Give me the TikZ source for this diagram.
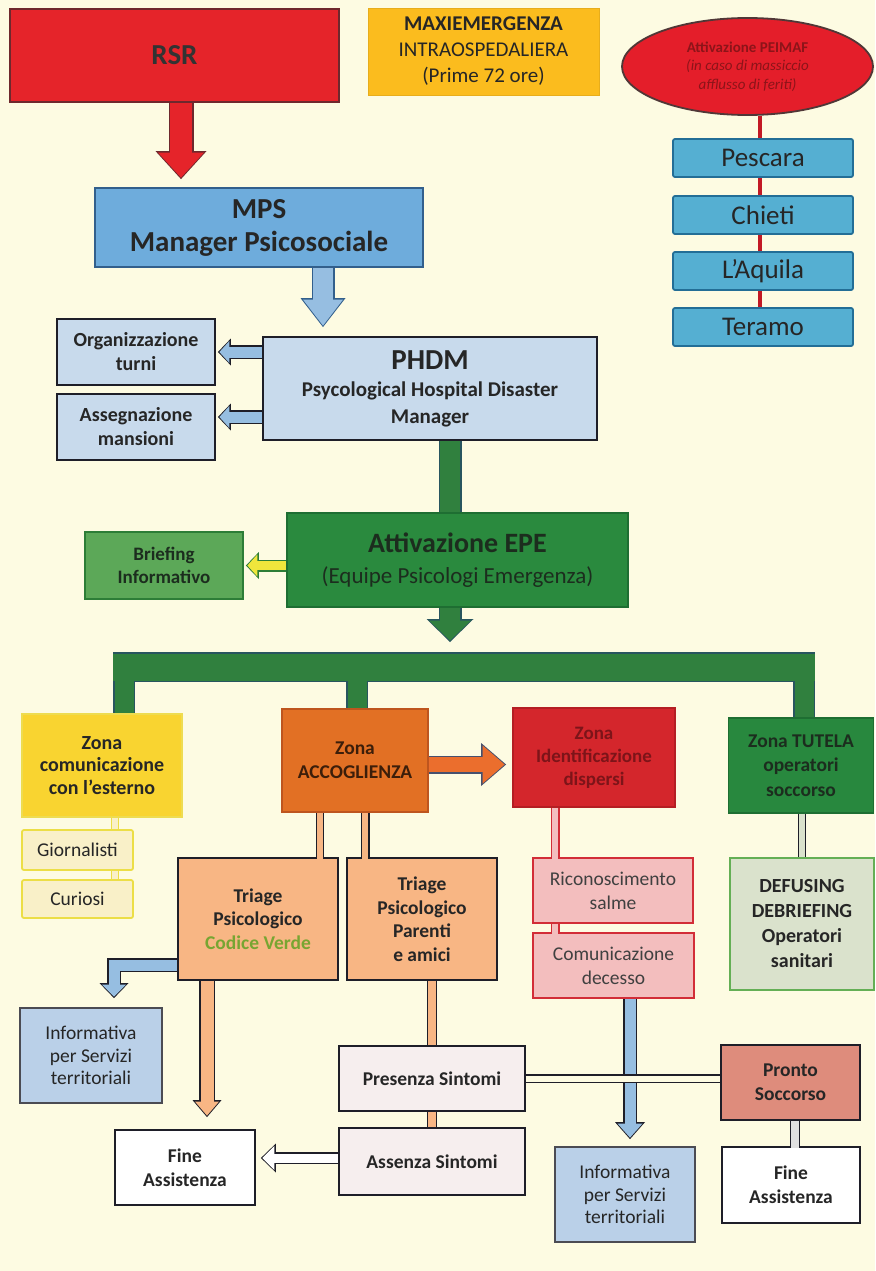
\documentclass[tikz,border=0pt]{standalone}
\usepackage{fontspec}
\setmainfont{Carlito}
\usepackage{xcolor}
\usepackage{tikz}
\usetikzlibrary{shapes,arrows.meta,positioning,calc}

\definecolor{bgcream}{RGB}{253,251,226}
\definecolor{rsrred}{RGB}{229,36,42}
\definecolor{rsrline}{RGB}{110,40,45}
\definecolor{maxorange}{RGB}{251,188,30}
\definecolor{ellred}{RGB}{228,30,42}
\definecolor{ellline}{RGB}{80,55,55}
\definecolor{elltext}{RGB}{140,20,25}
\definecolor{cityblue}{RGB}{85,175,210}
\definecolor{cityline}{RGB}{35,110,150}
\definecolor{mpsblue}{RGB}{110,172,220}
\definecolor{mpsline}{RGB}{50,95,140}
\definecolor{lightblue}{RGB}{200,218,236}
\definecolor{darkline}{RGB}{30,30,40}
\definecolor{epegreen}{RGB}{42,138,62}
\definecolor{epeline}{RGB}{30,110,50}
\definecolor{epetext}{RGB}{28,45,30}
\definecolor{brfgreen}{RGB}{92,168,88}
\definecolor{brfline}{RGB}{45,125,55}
\definecolor{bandgreen}{RGB}{48,128,62}
\definecolor{bandline}{RGB}{40,85,95}
\definecolor{zcyellow}{RGB}{249,212,48}
\definecolor{zcline}{RGB}{238,220,80}
\definecolor{ysmall}{RGB}{249,240,200}
\definecolor{ysmallline}{RGB}{236,222,70}
\definecolor{accorange}{RGB}{226,112,36}
\definecolor{accline}{RGB}{190,85,30}
\definecolor{acctext}{RGB}{60,30,10}
\definecolor{idred}{RGB}{212,38,44}
\definecolor{idline}{RGB}{180,30,35}
\definecolor{idtext}{RGB}{125,20,25}
\definecolor{tutgreen}{RGB}{40,136,62}
\definecolor{peach}{RGB}{248,182,132}
\definecolor{pinkfill}{RGB}{243,190,190}
\definecolor{pinkline}{RGB}{210,45,55}
\definecolor{deffill}{RGB}{218,226,204}
\definecolor{defline}{RGB}{100,175,85}
\definecolor{infoblue}{RGB}{186,208,232}
\definecolor{arrblue}{RGB}{150,190,225}
\definecolor{sintfill}{RGB}{246,238,238}
\definecolor{psred}{RGB}{222,140,124}
\definecolor{cvgreen}{RGB}{120,165,50}
\definecolor{arrorange}{RGB}{235,110,45}
\definecolor{arroutline}{RGB}{70,80,110}
\definecolor{arryellow}{RGB}{240,230,60}

\newcommand{\fs}[2]{\fontsize{#1}{#2}\selectfont}

% fat block arrow: fill, outline, shaft, head width, head length, path
\newcommand{\fatarrow}[6]{%
  \pgfmathsetmacro{\fatout}{#3+3}\pgfmathsetmacro{\headout}{#4+5}\pgfmathsetmacro{\lenout}{#5+3}%
  \draw[line width=\fatout pt, draw=#2, -{Triangle[width=\headout pt,length=\lenout pt,line width=0pt 0 0]}] #6;
  \draw[line width=#3pt, draw=#1, shorten >=1.5pt, -{Triangle[width=#4pt,length=#5pt,line width=0pt 0 0]}] #6;}

\begin{document}
\begin{tikzpicture}[
    x=1pt, y=-1pt,
    box/.style={rectangle, line width=1.8pt, align=center, inner sep=2pt, text=black!85},
    redbox/.style={box, draw=rsrline, fill=rsrred, font=\bfseries\fs{29}{33}, text=black!80},
    orbox/.style={box, draw=maxorange!92!black, line width=0.8pt, fill=maxorange, font=\fs{21}{26}},
    redell/.style={ellipse, draw=ellline, line width=1.8pt, fill=ellred, inner sep=0pt, align=center, text=elltext, font=\fs{15}{18.5}},
    citybox/.style={box, draw=cityline, fill=cityblue, rounded corners=2pt, minimum width=180pt, minimum height=38pt, font=\fs{27}{28}},
    mpsbox/.style={box, draw=mpsline, fill=mpsblue, font=\bfseries\fs{29}{33}},
    lbluebox/.style={box, draw=darkline, fill=lightblue, font=\bfseries\fs{20}{24}},
    epebox/.style={box, draw=epeline, fill=epegreen, text=epetext, font=\fs{23}{31}},
    brfbox/.style={box, draw=brfline, fill=brfgreen, text=epetext, font=\bfseries\fs{19}{23}},
    zcbox/.style={box, draw=zcline, fill=zcyellow, font=\bfseries\fs{20}{22.5}},
    ysbox/.style={box, draw=ysmallline, fill=ysmall, rounded corners=2pt, font=\fs{19.5}{22}},
    accbox/.style={box, draw=accline, fill=accorange, text=acctext, font=\bfseries\fs{19.5}{24}},
    idbox/.style={box, draw=idline, fill=idred, text=idtext, font=\bfseries\fs{19}{23}},
    tutbox/.style={box, draw=epeline, fill=tutgreen, text=epetext, font=\bfseries\fs{19.5}{24.5}},
    peachbox/.style={box, draw=darkline, fill=peach, font=\bfseries\fs{19.5}{23.5}},
    pinkbox/.style={box, draw=pinkline, fill=pinkfill, text=black!75, font=\fs{19.5}{24}},
    defbox/.style={box, draw=defline, fill=deffill, font=\bfseries\fs{20}{25}},
    infobox/.style={box, draw=darkline!80, fill=infoblue, font=\fs{19.5}{22.5}},
    sintbox/.style={box, draw=darkline, fill=sintfill, font=\bfseries\fs{19.5}{23}},
    finebox/.style={box, draw=darkline, fill=white, font=\bfseries\fs{19.5}{24}},
    psbox/.style={box, draw=darkline, fill=psred, font=\bfseries\fs{19.5}{24}},
    dline/.style={double distance=6pt, line width=1.4pt},
    redline/.style={draw=ellred!85!black, line width=4.5pt}
]
    \useasboundingbox (0,0) rectangle (875,1271);
    \fill[bgcream] (0,0) rectangle (875,1271);

    % top row
    \node [redbox, minimum width=329pt, minimum height=93pt] (rsr) at (174.5,55.5) {RSR};
    \node [orbox, minimum width=231pt, minimum height=87pt] (maxi) at (483.5,51.5) {\textbf{MAXIEMERGENZA}\\INTRAOSPEDALIERA\\(Prime 72 ore)};
    \node [redell, minimum width=251pt, minimum height=97pt] (ell) at (747.5,66.5) {\textbf{Attivazione PEIMAF}\\\textit{(in caso di massiccio}\\\textit{afflusso di feriti)}};

    % provinces
    \node [citybox] (pes) at (763,158) {Pescara};
    \node [citybox] (chi) at (763,215) {Chieti};
    \node [citybox] (aqu) at (763,271) {L'Aquila};
    \node [citybox] (ter) at (763,327) {Teramo};

    \node [mpsbox, minimum width=328pt, minimum height=79pt] (mps) at (259,227.5) {MPS\\Manager Psicosociale};
    \node [lbluebox, minimum width=334pt, minimum height=103pt, font=\bfseries\fs{21}{27}] (phdm) at (430,388.5) {{\fs{29}{30}PHDM}\\Psycological Hospital Disaster\\Manager};
    \node [lbluebox, minimum width=158pt, minimum height=66pt] (org) at (136,352) {Organizzazione\\turni};
    \node [lbluebox, minimum width=158pt, minimum height=66pt] (ass) at (136,427) {Assegnazione\\mansioni};

    \node [epebox, minimum width=341pt, minimum height=94pt] (epe) at (457.5,560) {{\bfseries\fs{28}{31}Attivazione EPE}\\(Equipe Psicologi Emergenza)};
    \node [brfbox, minimum width=158pt, minimum height=67pt] (brf) at (164,565.5) {Briefing\\Informativo};

    % zones
    \node [zcbox, minimum width=160pt, minimum height=103pt] (zc) at (102,765.5) {Zona\\comunicazione\\con l'esterno};
    \node [ysbox, minimum width=111pt, minimum height=40pt] (gio) at (77.5,850) {Giornalisti};
    \node [ysbox, minimum width=111pt, minimum height=38pt] (cur) at (77.5,899) {Curiosi};
    \node [accbox, minimum width=146pt, minimum height=103pt] (acc) at (355,760.5) {Zona\\ACCOGLIENZA};
    \node [idbox, minimum width=162pt, minimum height=99pt] (idz) at (594,757.5) {Zona\\Identificazione\\dispersi};
    \node [tutbox, minimum width=145pt, minimum height=95pt] (tut) at (801,765.5) {Zona TUTELA\\operatori\\soccorso};

    \node [peachbox, minimum width=160pt, minimum height=122pt] (tcv) at (258,919) {Triage\\Psicologico\\\textcolor{cvgreen}{Codice Verde}};
    \node [peachbox, minimum width=150pt, minimum height=122pt] (tpa) at (422,919) {Triage\\Psicologico\\Parenti\\e amici};
    \node [pinkbox, minimum width=160pt, minimum height=65pt] (ric) at (613,890.5) {Riconoscimento\\salme};
    \node [pinkbox, minimum width=161pt, minimum height=65pt] (com) at (613.5,965.5) {Comunicazione\\decesso};
    \node [defbox, minimum width=144pt, minimum height=132pt] (def) at (802,924) {DEFUSING\\DEBRIEFING\\Operatori\\sanitari};

    \node [infobox, minimum width=142pt, minimum height=95pt] (infl) at (91,1055.5) {Informativa\\per Servizi\\territoriali};
    \node [finebox, minimum width=140pt, minimum height=75pt] (finl) at (185,1167.5) {Fine\\Assistenza};
    \node [sintbox, minimum width=186pt, minimum height=65pt] (pres) at (432,1078.5) {Presenza Sintomi};
    \node [sintbox, minimum width=186pt, minimum height=67pt] (abs) at (432,1161.5) {Assenza Sintomi};
    \node [infobox, minimum width=140pt, minimum height=95pt] (infr) at (625,1194.5) {Informativa\\per Servizi\\territoriali};
    \node [psbox, minimum width=139pt, minimum height=75pt] (ps) at (790.5,1082.5) {Pronto\\Soccorso};
    \node [finebox, minimum width=138pt, minimum height=76pt] (finr) at (791,1185) {Fine\\Assistenza};

    % helper x positions
    \coordinate (rarr) at (181,0);
    \coordinate (barr) at (323,0);
    \coordinate (garr) at (450,0);
    \coordinate (cityx) at (760,0);
    \coordinate (busL) at (113,667);
    \coordinate (busR) at (815,667);
    \coordinate (dropa) at (124,0);
    \coordinate (dropb) at (357,0);
    \coordinate (dropc) at (804,0);
    \coordinate (ycon) at (115,0);
    \coordinate (elb) at (114,965);
    \coordinate (parr) at (207,0);
    \coordinate (carr) at (630,0);

    % province chain
    \draw [redline] (ell.south -| cityx) -- (pes.north -| cityx);
    \draw [redline] (pes.south -| cityx) -- (chi.north -| cityx);
    \draw [redline] (chi.south -| cityx) -- (aqu.north -| cityx);
    \draw [redline] (aqu.south -| cityx) -- (ter.north -| cityx);

    % block arrows
    \fatarrow{rsrred}{rsrline}{22}{46}{25}{(rsr.south -| rarr) -- ($(mps.north -| rarr)+(0,-8)$)}
    \fatarrow{arrblue}{mpsline}{20}{40}{26}{(mps.south -| barr) -- ($(phdm.north -| barr)+(0,-9)$)}
    \fatarrow{arrblue}{darkline}{11}{22}{10}{(phdm.west |- org.east) -- ($(org.east)+(2,0)$)}
    \fatarrow{arrblue}{darkline}{11}{22}{10}{($(phdm.west |- ass.east)+(0,-10)$) -- ($(ass.east)+(2,-10)$)}
    \foreach \w/\c in {3/bandline, 0/bandgreen} {
        \draw [line width=20pt+\w pt, draw=\c] (phdm.south -| garr) -- (epe.north -| garr);
    }
    \fatarrow{arryellow}{brfline}{9}{22}{10}{(epe.west |- brf.east) -- ($(brf.east)+(2,0)$)}
    \fatarrow{bandgreen}{bandline}{20}{42}{20}{(epe.south -| garr) -- ($(garr |- busL)+(0,-25)$)}

    % distribution bus
    \foreach \w/\c in {3/bandline, 0/bandgreen} {
        \draw [line width=27pt+\w pt, draw=\c] (busL) -- (busR);
        \draw [line width=19pt+\w pt, draw=\c] ($(dropa |- busL)+(0,-13.5)$) -- (dropa |- zc.north);
        \draw [line width=19pt+\w pt, draw=\c] ($(dropb |- busL)+(0,-13.5)$) -- (dropb |- acc.north);
        \draw [line width=19pt+\w pt, draw=\c] ($(dropc |- busL)+(0,-13.5)$) -- (dropc |- tut.north);
    }

    \fatarrow{arrorange}{arroutline}{15}{38}{22}{($(acc.east)+(0,4)$) -- ($(idz.west |- acc.east)+(-6,4)$)}

    % double connectors
    \draw [dline, draw=ysmallline, double=ysmall] (zc.south -| ycon) -- (gio.north -| ycon);
    \draw [dline, draw=ysmallline, double=ysmall] (gio.south -| ycon) -- (cur.north -| ycon);
    \draw [dline, draw=darkline, double=peach] (acc.south -| tcv.north east) ++(-19,0) -- ++(0,46);
    \draw [dline, draw=darkline, double=peach] (acc.south -| tpa.north west) ++(19,0) -- ++(0,46);
    \draw [dline, draw=pinkline, double=pinkfill] (idz.south -| ric.north west) ++(23,0) -- ++(0,51);
    \draw [dline, draw=pinkline, double=pinkfill] (ric.south -| ric.south west) ++(23,0) -- ++(0,10);
    \draw [dline, draw=darkline, double=deffill] (tut.south -| def.north) -- (def.north);
    \draw [dline, double distance=8pt, draw=darkline, double=peach] (pres.north -| pres.north) -- (pres.north |- tpa.south);
    \draw [dline, double distance=8pt, draw=darkline, double=peach] (pres.south) -- (abs.north);

    \fatarrow{arrblue}{darkline}{11}{24}{12}{(tcv.west |- elb) -- (elb) -- ($(elb |- infl.north)+(0,-9)$)}
    \fatarrow{peach}{darkline}{13}{24}{14}{(tcv.south -| parr) -- ($(finl.north -| parr)+(0,-12)$)}
    \fatarrow{white}{darkline}{9}{24}{12}{($(abs.west)+(0,-3.5)$) -- ($(finl.east |- abs.west)+(5,-3.5)$)}
    \fatarrow{arrblue}{darkline}{11}{25}{14}{(com.south -| carr) -- ($(infr.north -| carr)+(0,-7)$)}

    \draw [dline, draw=darkline, double=bgcream] (pres.east) -- (ps.west |- pres.east);
    \draw [dline, double distance=8pt, draw=darkline, double=black!12] (ps.south -| finr.north) ++(4,0) -- ++(0,27);
\end{tikzpicture}
\end{document}
